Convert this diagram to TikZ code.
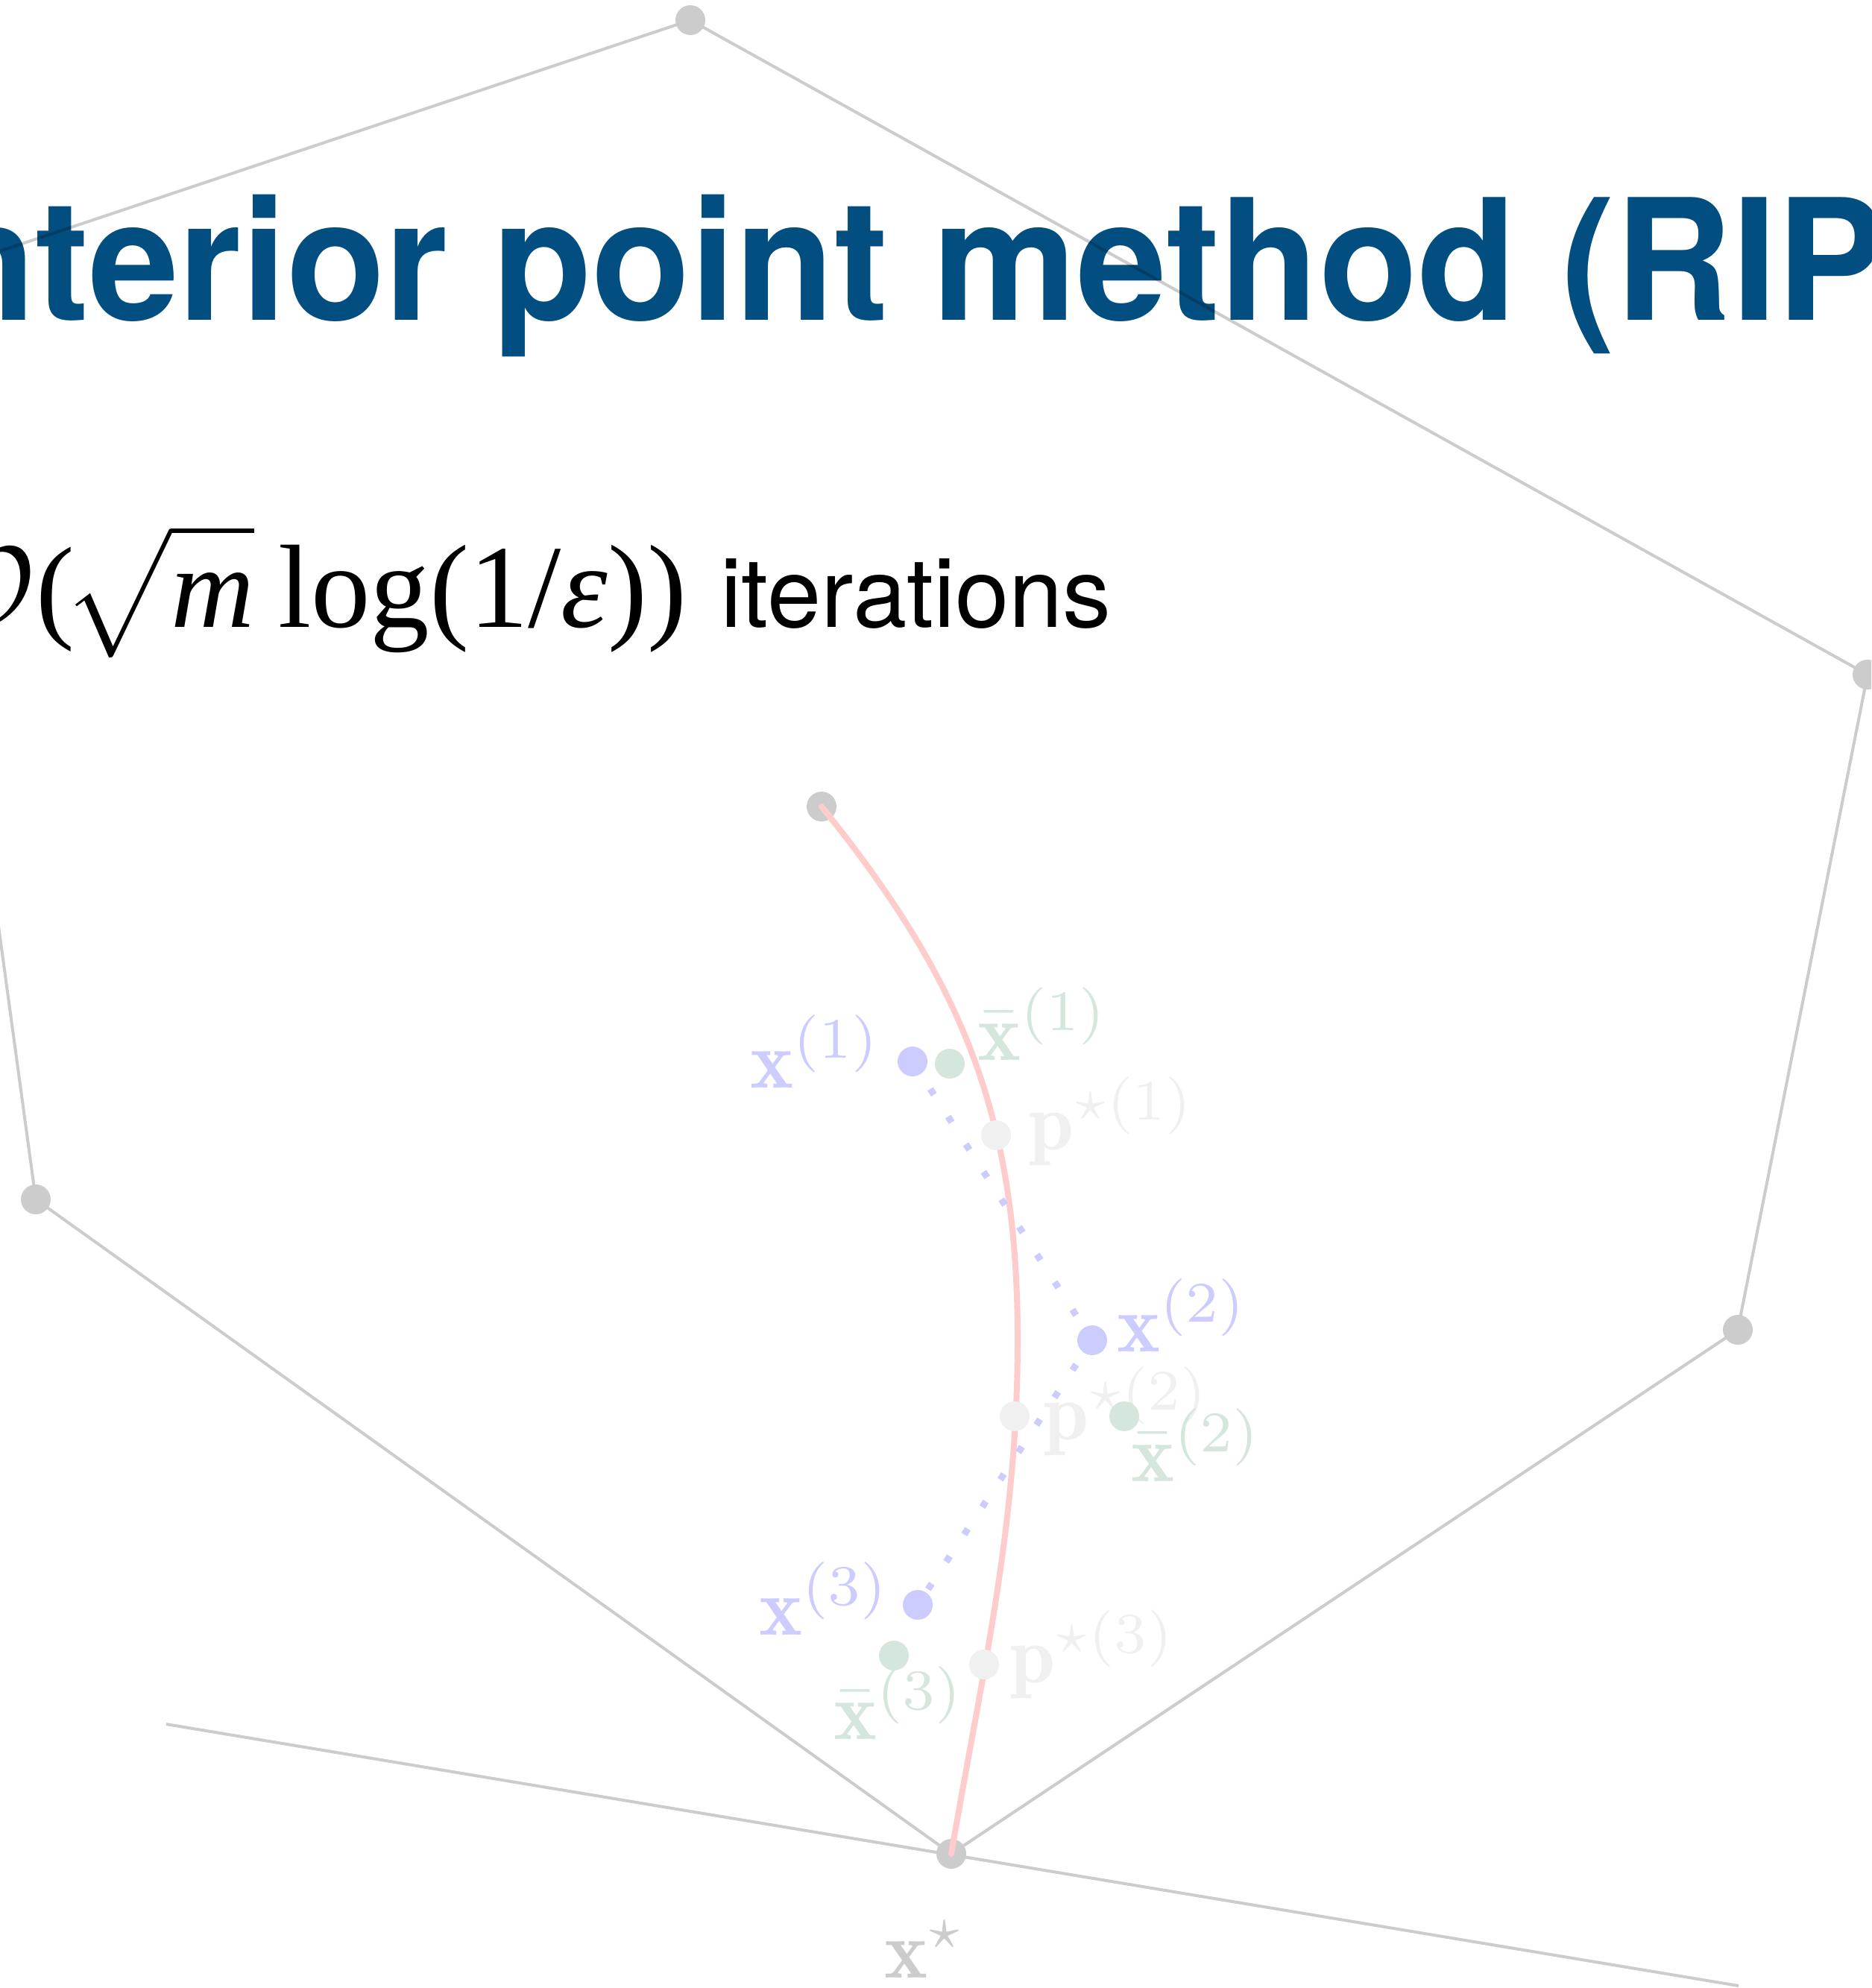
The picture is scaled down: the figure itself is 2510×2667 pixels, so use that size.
\RequirePackage{fix-cm}
\documentclass[tikz,border=0pt]{standalone}
\usepackage{exscale}
\usepackage{fontspec}
\newfontfamily\heros{TeX Gyre Heros}
\newfontfamily\tms{Liberation Serif}
\newfontfamily\titlefont[FakeStretch=0.96]{TeX Gyre Heros}
\definecolor{titleblue}{RGB}{2,78,128}
\definecolor{dotgray}{RGB}{204,204,204}
\definecolor{pathred}{RGB}{255,204,204}
\definecolor{iterblue}{RGB}{204,204,255}
\definecolor{bargreen}{RGB}{213,230,220}
\definecolor{pgray}{RGB}{240,240,240}
\tikzset{
  edge/.style={draw=black, draw opacity=0.2, line width=0.4pt},
  vdot/.style={circle, fill=dotgray, inner sep=0pt, minimum size=4pt},
  idot/.style={circle, fill=#1, inner sep=0pt, minimum size=4pt},
  lbl/.style={anchor=base west, inner sep=0pt, font=\fontsize{11}{13}\selectfont},
  cpath/.style={draw=pathred, line width=0.8pt, line cap=round},
  itline/.style={draw=iterblue, line width=0.9pt, dash pattern=on 0.9pt off 3.5pt}
}
\begin{document}
\begin{tikzpicture}[x=0.1pt,y=-0.1pt]
\useasboundingbox (0,0) rectangle (2510,2667);
\clip (0,0) rectangle (2510,2667);
% title and formula
\node[anchor=base west, inner sep=0pt, text=titleblue, font=\titlefont\bfseries\fontsize{22.6}{27}\selectfont] (title) at (-147,429) {Interior point method (RIPM)};
\node[anchor=base west, inner sep=0pt, font=\tms\fontsize{15.5}{18}\selectfont] (formula) at (-81,841) {$\mathcal{O}$(\kern-1.5pt$\sqrt{\vphantom{(}\hbox{\itshape m}}$\kern0.6pt\,{\fontsize{15.9}{19}\selectfont log(1/{\itshape ε}))}};
\node[anchor=base west, inner sep=0pt, font=\heros\fontsize{13}{16}\selectfont] (iter) at (964,841) {iterations};
% polygon vertices
\coordinate (A) at (-120,377);
\coordinate (B) at (926,27);
\coordinate (C) at (2505,905);
\coordinate (D) at (2331,1784);
\coordinate (E) at (1276,2487);
\coordinate (F) at (48,1609);
\coordinate (L1) at (223,2313);
\coordinate (L2) at (2332,2664);
\coordinate (AC) at (1102,1082);
\draw[edge] (A) -- (B) -- (C) -- (D) -- (E) -- (F) -- cycle;
\draw[edge] (L1) -- (L2);
\node[vdot] (vB) at (B) {};
\node[vdot] (vC) at (C) {};
\node[vdot] (vD) at (D) {};
\node[vdot] (vE) at (E) {};
\node[vdot] (vF) at (F) {};
\node[vdot] (ac) at (AC) {};
% central path
\draw[cpath] (ac.center) .. controls (1291,1316) and (1365,1497) .. (1365,1797)
  .. controls (1365,2047) and (1318,2241) .. (vE.center);
% iterates
\coordinate (X1) at (1224,1424);
\coordinate (X2) at (1465,1798);
\coordinate (X3) at (1231,2153);
\draw[itline] (X1) -- (X2) -- (X3);
% labels
\node[lbl, text=iterblue] (lx1) at (1004,1459) {$\mathbf{x}^{(1)}$};
\node[lbl, text=bargreen] (lb1) at (1309,1422) {$\bar{\mathbf{x}}^{(1)}$};
\node[lbl, text=pgray] (lp1) at (1377,1542) {$\mathbf{p}^{\star(1)}$};
\node[lbl, text=iterblue] (lx2) at (1496,1813) {$\mathbf{x}^{(2)}$};
\node[lbl, text=pgray] (lp2) at (1397,1931) {$\mathbf{p}^{\star(2)}$};
\node[lbl, text=bargreen] (lb2) at (1515,1987) {$\bar{\mathbf{x}}^{(2)}$};
\node[lbl, text=iterblue] (lx3) at (1016,2193) {$\mathbf{x}^{(3)}$};
\node[lbl, text=bargreen] (lb3) at (1116,2333) {$\bar{\mathbf{x}}^{(3)}$};
\node[lbl, text=pgray] (lp3) at (1352,2257) {$\mathbf{p}^{\star(3)}$};
\node[lbl, text=dotgray] (lxs) at (1184,2653) {$\mathbf{x}^{\star}$};
% dots
\node[idot=iterblue] (x1) at (X1) {};
\node[idot=bargreen] (b1) at (1274,1427) {};
\node[idot=pgray] (p1) at (1336,1523) {};
\node[idot=iterblue] (x2) at (X2) {};
\node[idot=pgray] (p2) at (1361,1900) {};
\node[idot=bargreen] (b2) at (1508,1900) {};
\node[idot=iterblue] (x3) at (X3) {};
\node[idot=bargreen] (b3) at (1199,2221) {};
\node[idot=pgray] (p3) at (1320,2233) {};
\end{tikzpicture}
\end{document}
